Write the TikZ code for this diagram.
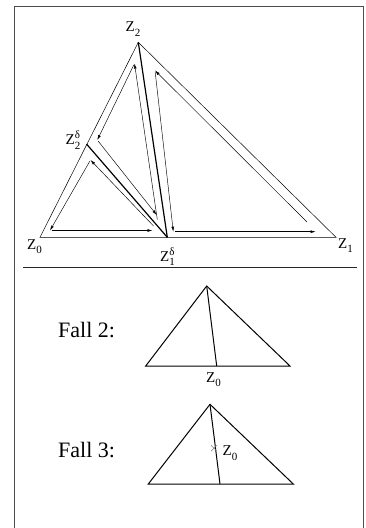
\documentclass[tikz,border=0pt]{standalone}
\usepackage{fontspec}
\setmainfont{Liberation Serif}
\usetikzlibrary{arrows.meta}
\newcommand{\zlab}[2]{Z\rlap{\raisebox{6pt}{\fontsize{11}{11}\selectfont #2}}\raisebox{-4.5pt}{\fontsize{11}{11}\selectfont #1}}
\begin{document}
\begin{tikzpicture}[x=1pt,y=-1pt,
  frame/.style={draw=black!70,line width=1.2pt},
  thin edge/.style={draw=black,line width=0.5pt},
  thick edge/.style={draw=black,line width=1.2pt},
  arr/.style={draw=black,line width=0.45pt,-{Latex[length=5pt,width=2.8pt]},shorten <=1.5pt},
  lab/.style={inner sep=0pt,font=\fontsize{15}{16}\selectfont},
  fall/.style={inner sep=0pt,font=\fontsize{22}{24}\selectfont},
  small tri/.style={draw=black,line width=1pt,line join=miter}]
\useasboundingbox (0,0) rectangle (366,528);
\begin{scope}
  \clip (0,0) rectangle (366,528);
  \draw[frame] (14.5,6.3) rectangle (363.3,560);
\end{scope}
% main triangle
\coordinate (Z0) at (40,237.3);
\coordinate (Z1) at (336,237.3);
\coordinate (Z2) at (138.3,42.3);
\coordinate (Z1d) at (167.3,237.3);
\coordinate (Z2d) at (86.5,144);
\draw[thin edge] (Z0) -- (Z1) -- (Z2) -- cycle;
\draw[thick edge] (Z2) -- (Z1d);
\draw[thick edge] (Z2d) -- (Z1d);
% inner circulation, small triangle
\coordinate (A1) at (50,230.5);
\coordinate (A2) at (152.5,230.5);
\coordinate (A3) at (90.5,160);
\coordinate (A2s) at (154.5,227);
\draw[arr] (A2s) -- (A3);
\draw[arr] (A3) -- (A1);
\draw[arr] (A1) -- (A2);
% middle triangle
\coordinate (B1) at (97.3,140);
\coordinate (B2) at (134.5,63.5);
\coordinate (B3) at (156.7,215);
\coordinate (B3s) at (157.5,221);
\draw[arr] (B1) -- (B3);
\draw[arr] (B3s) -- (B2);
\draw[arr] (B2) -- (B1);
% right triangle
\coordinate (C1) at (155,70.5);
\coordinate (C2) at (173.3,231.7);
\coordinate (C3) at (315.7,231.7);
\coordinate (C3s) at (308,223);
\draw[arr] (C1) -- (C2);
\draw[arr] (C2) -- (C3);
\draw[arr] (C3s) -- (C1);
% labels
\node[lab,anchor=base west] (lz0) at (27,249) {\zlab{0}{}};
\node[lab,anchor=base west] (lz1) at (338,248) {\zlab{1}{}};
\node[lab,anchor=base west] (lz1d) at (160,261) {\zlab{1}{δ}};
\node[lab,anchor=base west] (lz2) at (125.5,31.5) {\zlab{2}{}};
\node[lab,anchor=base west] (lz2d) at (65.5,144.5) {\zlab{2}{δ}};
% separator
\coordinate (sepL) at (23,267.5);
\coordinate (sepR) at (357,267.5);
\draw[black!85,line width=1pt] (sepL) -- (sepR);
% Fall 2
\node[fall,anchor=base west] (f2) at (58,337) {Fall 2:};
\coordinate (P2a) at (206.7,286);
\coordinate (P2l) at (145.7,366);
\coordinate (P2r) at (290,366);
\coordinate (P2f) at (216.7,366);
\draw[small tri] (P2a) -- (P2l) -- (P2r) -- cycle;
\draw[small tri] (P2a) -- (P2f);
\node[lab,anchor=base west] (q2) at (206,382) {\zlab{0}{}};
% Fall 3
\node[fall,anchor=base west] (f3) at (58,457) {Fall 3:};
\coordinate (P3a) at (210,404.3);
\coordinate (P3l) at (148.3,484);
\coordinate (P3r) at (293.3,484);
\coordinate (P3f) at (220,484);
\draw[small tri] (P3a) -- (P3l) -- (P3r) -- cycle;
\draw[small tri] (P3a) -- (P3f);
\coordinate (X) at (214,448.3);
\draw[gray,line width=0.5pt] ([shift={(-3,-3)}]X) -- ([shift={(3,3)}]X) ([shift={(-3,3)}]X) -- ([shift={(3,-3)}]X);
\node[lab,anchor=base west] (q3) at (222.5,455.5) {\zlab{0}{}};
\end{tikzpicture}
\end{document}
